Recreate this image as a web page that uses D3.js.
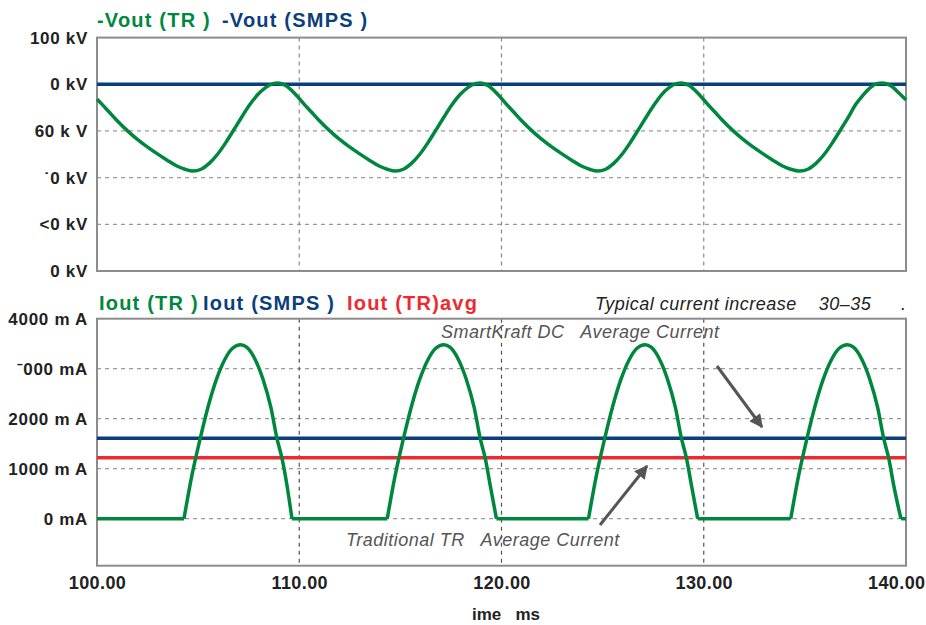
<!DOCTYPE html>
<html><head><meta charset="utf-8">
<script src="https://cdn.jsdelivr.net/npm/d3@7"></script>
<style>
html,body{margin:0;padding:0;background:#fff;}
svg{display:block;font-family:"Liberation Sans",Arial,sans-serif;}
</style></head>
<body>
<svg id="c" width="926" height="625"></svg>
<script>
// ---- data ----
const timeTicks = [100, 110, 120, 130, 140];
const timeTickLabels = ["100.00", "110.00", "120.00", "130.00", "140.00"];
const voltTicks = [100, 80, 60, 40, 20, 0];
const voltTickLabels = ["100 kV", "0 kV", "60 k V", "\u02D90 kV", "\u02C20 kV", "0 kV"];
const currTicks = [4000, 3000, 2000, 1000, 0];
const currTickLabels = ["4000 m A", "\u02C9000 mA", "2000 m A", "1000 m A", "0 mA"];

const vTime = [100.0,100.25,100.6,100.95,101.55,101.95,102.45,102.95,103.45,103.95,104.35,104.75,105.15,105.55,105.95,106.35,106.75,107.15,107.55,107.95,108.35,108.75,
  108.95,109.35,109.75,110.0,110.25,110.6,110.95,111.55,111.95,112.45,112.95,113.45,113.95,114.35,114.75,115.15,115.55,115.95,116.35,116.75,117.15,117.55,117.95,118.35,118.75,
  118.95,119.35,119.75,120.0,120.25,120.6,120.95,121.55,121.95,122.45,122.95,123.45,123.95,124.35,124.75,125.15,125.55,125.95,126.35,126.75,127.15,127.55,127.9,128.3,128.7,
  128.9,129.3,129.7,129.95,130.2,130.55,130.9,131.5,131.9,132.4,132.9,133.4,133.9,134.3,134.75,135.15,135.55,135.95,136.35,136.75,137.15,137.5,137.9,138.25,138.6,
  138.85,139.25,139.65,140.0];
const voutTR = [73.6,71.4,68.1,64.8,59.7,56.7,53.4,50.4,47.6,45.0,43.6,42.8,43.6,46.1,49.9,54.8,60.3,65.9,71.2,75.6,78.7,80.4,
  80.6,79.4,76.3,73.9,71.4,68.1,64.8,59.7,56.7,53.4,50.4,47.6,45.0,43.6,42.8,43.6,46.1,49.9,54.8,60.3,65.9,71.2,75.6,78.7,80.4,
  80.6,79.4,76.3,73.9,71.4,68.1,64.8,59.7,56.7,53.4,50.4,47.6,45.0,43.6,42.8,43.6,46.1,49.9,54.8,60.3,65.9,71.2,75.4,78.7,80.4,
  80.6,79.4,76.3,73.9,71.4,68.1,64.8,59.7,56.7,53.4,50.4,47.6,45.0,43.6,42.8,43.6,46.1,49.9,54.8,60.3,65.9,71.2,75.6,78.7,80.4,
  80.6,79.4,76.3,73.3];
const voutSMPS = 80;

const iTime = [100.0,104.3,104.7,105.1,105.5,105.9,106.3,106.7,107.1,107.4,107.8,108.2,108.6,108.9,109.15,109.4,109.64,
  114.35,114.75,115.15,115.55,115.95,116.35,116.75,117.15,117.45,117.85,118.25,118.65,118.95,119.2,119.45,119.75,
  124.3,124.7,125.1,125.5,125.9,126.3,126.7,127.1,127.4,127.8,128.2,128.6,128.9,129.15,129.4,129.7,
  134.3,134.7,135.1,135.5,135.9,136.3,136.7,137.1,137.4,137.8,138.2,138.6,138.9,139.15,139.4,139.75,140.0];
const ioutTR = [0,0,880,1600,2250,2780,3170,3410,3480,3430,3200,2800,2220,1600,1200,650,0,
  0,880,1600,2250,2780,3170,3410,3480,3430,3200,2800,2220,1600,1200,650,0,
  0,880,1600,2250,2780,3170,3410,3480,3430,3200,2800,2220,1600,1200,650,0,
  0,880,1600,2250,2780,3170,3410,3480,3430,3200,2800,2220,1600,1200,650,0,0];
const ioutSMPS = 1608;
const ioutTRavg = 1220;

// ---- drawing ----
const svg = d3.select("#c");
const GREEN = "#00873e", BLUE = "#0b3f7c", RED = "#ee2a2e", FRAME = "#8c8c8c";
const x = d3.scaleLinear().domain([100, 140]).range([97, 906]);
const yV = d3.scaleLinear().domain([0, 100]).range([271, 37.6]);
const yI = d3.scaleLinear().domain([-940, 4000]).range([565.7, 318.7]);

function panel(y, ticks, labels, gridVals, vGridColor) {
  const g = svg.append("g");
  const [y0, y1] = y.range();
  g.selectAll(null).data(gridVals).enter().append("line")
    .attr("x1", x(100)).attr("x2", x(140))
    .attr("y1", d => y(d)).attr("y2", d => y(d))
    .attr("stroke", "#9a9a9a").attr("stroke-width", 1.2).attr("stroke-dasharray", "4,4");
  g.selectAll(null).data([110, 120, 130]).enter().append("line")
    .attr("x1", d => x(d)).attr("x2", d => x(d))
    .attr("y1", y1).attr("y2", y0)
    .attr("stroke", vGridColor).attr("stroke-width", 1.2).attr("stroke-dasharray", "4,4");
  g.append("rect").attr("x", x(100)).attr("y", y1).attr("width", x(140) - x(100)).attr("height", y0 - y1)
    .attr("fill", "none").attr("stroke", FRAME).attr("stroke-width", 2);
  const ax = d3.axisLeft(y).tickValues(ticks).tickSize(0).tickPadding(9)
    .tickFormat((d, i) => labels[i]);
  const ga = g.append("g").attr("transform", `translate(${x(100)},0)`).call(ax);
  ga.select(".domain").remove();
  ga.selectAll("text").attr("font-size", 17).attr("font-weight", "bold").attr("fill", "#222")
    .attr("letter-spacing", 0.7).attr("font-family", "Liberation Sans, Arial, sans-serif");
  return g;
}

panel(yV, voltTicks, voltTickLabels, [80, 60, 40, 20], "#8a8a8a");
panel(yI, currTicks, currTickLabels, [3000, 2000, 1000, 0], "#555");

// top series
svg.append("line").attr("x1", x(100)).attr("x2", x(140))
  .attr("y1", yV(voutSMPS)).attr("y2", yV(voutSMPS))
  .attr("stroke", BLUE).attr("stroke-width", 3.5);
const lineV = d3.line().x((d, i) => x(vTime[i])).y(d => yV(d)).curve(d3.curveMonotoneX);
svg.append("path").attr("d", lineV(voutTR)).attr("fill", "none")
  .attr("stroke", GREEN).attr("stroke-width", 3.5).attr("stroke-linejoin", "round");

// bottom series
svg.append("line").attr("x1", x(100)).attr("x2", x(140))
  .attr("y1", yI(ioutSMPS)).attr("y2", yI(ioutSMPS))
  .attr("stroke", BLUE).attr("stroke-width", 3.5);
svg.append("line").attr("x1", x(100)).attr("x2", x(140))
  .attr("y1", yI(ioutTRavg)).attr("y2", yI(ioutTRavg))
  .attr("stroke", RED).attr("stroke-width", 3.5);

// green current: smooth pulses, straight flat parts
const pts = iTime.map((t, i) => [t, ioutTR[i]]);
const pulses = [];
let cur = null;
for (let i = 0; i < pts.length; i++) {
  if (pts[i][1] > 0) {
    if (!cur) { cur = [pts[i - 1]]; }
    cur.push(pts[i]);
  } else if (cur) { cur.push(pts[i]); pulses.push(cur); cur = null; }
}
const flatLine = d3.line().x(d => x(d[0])).y(d => yI(d[1]));
const pulseLine = d3.line().x(d => x(d[0])).y(d => yI(d[1])).curve(d3.curveMonotoneX);
const gI = svg.append("g").attr("fill", "none").attr("stroke", GREEN).attr("stroke-width", 3.5)
  .attr("stroke-linejoin", "round");
for (let i = 0; i < pts.length - 1; i++) {
  if (pts[i][1] === 0 && pts[i + 1][1] === 0) gI.append("path").attr("d", flatLine([pts[i], pts[i + 1]]));
}
pulses.forEach(p => gI.append("path").attr("d", pulseLine(p)));

// x axis labels
const xa = d3.axisBottom(x).tickValues(timeTicks).tickSize(0).tickPadding(11)
  .tickFormat((d, i) => timeTickLabels[i]);
const gx = svg.append("g").attr("transform", `translate(0,${yI(-940)})`).call(xa);
gx.select(".domain").remove();
gx.selectAll("text").attr("font-size", 18).attr("font-weight", "bold").attr("fill", "#222")
  .attr("letter-spacing", 0.4).attr("font-family", "Liberation Sans, Arial, sans-serif");
gx.selectAll("text").filter((d, i) => i === timeTicks.length - 1)
  .attr("text-anchor", "end").attr("x", 925 - x(140));

svg.append("text").attr("x", 506).attr("y", 620).attr("text-anchor", "middle")
  .attr("font-size", 17).attr("font-weight", "bold").attr("fill", "#222")
  .style("white-space", "pre").text("ime   ms");

// legends
function legend(items, yb) {
  items.forEach(([t, c, xx]) => {
    svg.append("text").attr("x", xx).attr("y", yb).attr("fill", c)
      .attr("font-size", 20).attr("font-weight", "bold").attr("letter-spacing", 1.2)
      .style("white-space", "pre").text(t);
  });
}
legend([["-Vout (TR )", GREEN, 97], ["-Vout (SMPS )", BLUE, 222]], 27);
legend([["Iout (TR )", GREEN, 99], ["Iout (SMPS )", BLUE, 203], ["Iout (TR)avg", RED, 347]], 310);

// annotations
function note(t, xx, yb, c) {
  svg.append("text").attr("x", xx).attr("y", yb).attr("fill", c)
    .attr("font-size", 18).attr("font-style", "italic").attr("letter-spacing", 0.5)
    .style("white-space", "pre").text(t);
}
note("Typical current increase    30\u201335", 595, 310, "#222");
note(".", 901, 310, "#222");
note("SmartKraft DC   Average Current", 441, 338, "#555");
note("Traditional TR   Average Current", 346, 546, "#555");

// arrows
const defs = svg.append("defs");
defs.append("marker").attr("id", "ah").attr("viewBox", "0 0 10 10").attr("refX", 9).attr("refY", 5)
  .attr("markerWidth", 5).attr("markerHeight", 4.5).attr("orient", "auto").attr("markerUnits", "strokeWidth")
  .append("path").attr("d", "M0,0 L10,5 L0,10 Z").attr("fill", "#555");
function arrow(x1, y1, x2, y2) {
  svg.append("line").attr("x1", x1).attr("y1", y1).attr("x2", x2).attr("y2", y2)
    .attr("stroke", "#555").attr("stroke-width", 3).attr("marker-end", "url(#ah)");
}
arrow(717, 366, 762, 427);
arrow(600, 525, 647, 466);
</script>
</body></html>
